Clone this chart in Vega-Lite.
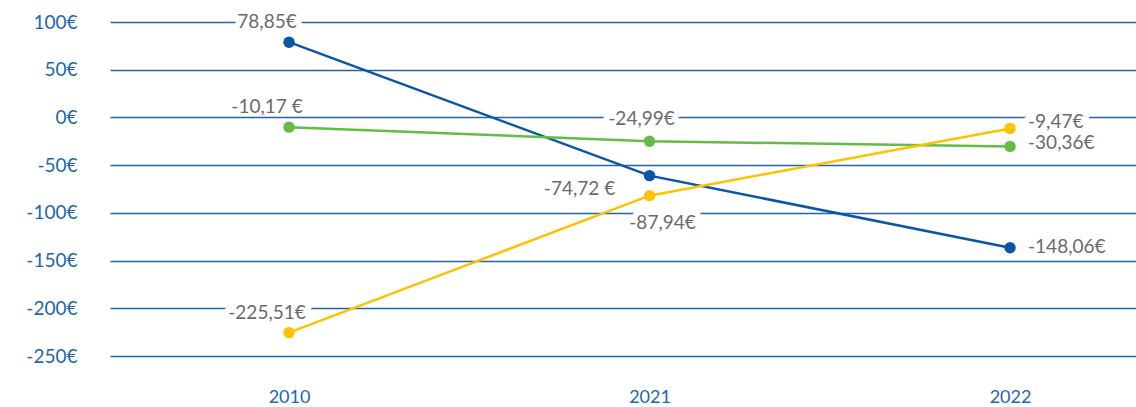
{
  "$schema": "https://vega.github.io/schema/vega-lite/v6.json",
  "autosize": "none",
  "width": 1026,
  "height": 334,
  "padding": {"left": 110, "top": 22, "right": 0, "bottom": 51},
  "background": "white",
  "config": {
    "view": {"stroke": null},
    "font": "Lato",
    "axis": {"domain": false, "ticks": false, "labelFont": "Lato", "labelColor": "#1f66b1", "labelFontSize": 19, "title": null}
  },
  "data": {
    "values": [
      {"year": "2010", "series": "blue", "value": 78.85, "label": "78,85€"},
      {"year": "2021", "series": "blue", "value": -61, "label": "-74,72 €"},
      {"year": "2022", "series": "blue", "value": -136.5, "label": "-148,06€"},
      {"year": "2010", "series": "green", "value": -10.17, "label": "-10,17 €"},
      {"year": "2021", "series": "green", "value": -24.99, "label": "-24,99€"},
      {"year": "2022", "series": "green", "value": -30.36, "label": "-30,36€"},
      {"year": "2010", "series": "yellow", "value": -225.51, "label": "-225,51€"},
      {"year": "2021", "series": "yellow", "value": -82, "label": "-87,94€"},
      {"year": "2022", "series": "yellow", "value": -11.5, "label": "-9,47€"}
    ]
  },
  "encoding": {
    "x": {"field": "year", "type": "ordinal", "scale": {"type": "point", "padding": 0.423, "align": 0.587},
      "axis": {"labelAngle": 0, "labelPadding": 32, "grid": false, "labelFontSize": 18}},
    "y": {"field": "value", "type": "quantitative", "scale": {"domain": [-250, 100], "nice": false, "zero": false},
      "axis": {"values": [-250, -200, -150, -100, -50, 0, 50, 100], "labelExpr": "datum.value + '€'", "labelPadding": 33,
        "grid": true, "gridColor": "#2563a8", "gridWidth": 1.4, "labelBaseline": "middle"}},
    "color": {"field": "series", "type": "nominal", "legend": null,
      "scale": {"domain": ["blue", "green", "yellow"], "range": ["#0a55a6", "#66bb47", "#fcc400"]}}
  },
  "layer": [
    {"transform": [{"filter": "datum.year == '2010' && datum.series != 'green'"}],
     "mark": {"type": "text", "dx": -22, "dy": -20, "align": "center", "baseline": "middle", "fontSize": 19, "fill": "white", "stroke": "white", "strokeWidth": 12, "strokeJoin": "round"},
     "encoding": {"text": {"field": "label"}, "color": {"value": "white"}}},
    {"transform": [{"filter": "datum.year == '2021' && datum.series == 'green'"}],
     "mark": {"type": "text", "dx": -8, "dy": -22, "align": "center", "baseline": "middle", "fontSize": 19, "fill": "white", "stroke": "white", "strokeWidth": 12, "strokeJoin": "round"},
     "encoding": {"text": {"field": "label"}, "color": {"value": "white"}}},
    {"transform": [{"filter": "datum.year == '2021' && datum.series == 'yellow'"}],
     "mark": {"type": "text", "dx": 13, "dy": 27, "align": "center", "baseline": "middle", "fontSize": 19, "fill": "white", "stroke": "white", "strokeWidth": 12, "strokeJoin": "round"},
     "encoding": {"text": {"field": "label"}, "color": {"value": "white"}}},
    {"transform": [{"filter": "datum.year == '2022' && datum.series == 'yellow'"}],
     "mark": {"type": "text", "dx": 18, "dy": -6, "align": "left", "baseline": "middle", "fontSize": 19, "fill": "white", "stroke": "white", "strokeWidth": 12, "strokeJoin": "round"},
     "encoding": {"text": {"field": "label"}, "color": {"value": "white"}}},
    {"mark": {"type": "line", "strokeWidth": 2.5}, "encoding": {"detail": {"field": "series"}}},
    {"mark": {"type": "point", "filled": true, "opacity": 1, "size": 130}},
    {"transform": [{"filter": "datum.year == '2010'"}],
     "mark": {"type": "text", "dx": -22, "dy": -20, "align": "center", "baseline": "middle", "fontSize": 19},
     "encoding": {"text": {"field": "label"}, "color": {"value": "#6b6b6b"}}},
    {"transform": [{"filter": "datum.year == '2021' && datum.series == 'green'"}],
     "mark": {"type": "text", "dx": -8, "dy": -22, "align": "center", "baseline": "middle", "fontSize": 19},
     "encoding": {"text": {"field": "label"}, "color": {"value": "#6b6b6b"}}},
    {"transform": [{"filter": "datum.year == '2021' && datum.series == 'blue'"}],
     "mark": {"type": "text", "dx": -70, "dy": 13, "align": "center", "baseline": "middle", "fontSize": 19},
     "encoding": {"text": {"field": "label"}, "color": {"value": "#6b6b6b"}}},
    {"transform": [{"filter": "datum.year == '2021' && datum.series == 'yellow'"}],
     "mark": {"type": "text", "dx": 13, "dy": 27, "align": "center", "baseline": "middle", "fontSize": 19},
     "encoding": {"text": {"field": "label"}, "color": {"value": "#6b6b6b"}}},
    {"transform": [{"filter": "datum.year == '2022' && datum.series == 'yellow'"}],
     "mark": {"type": "text", "dx": 18, "dy": -6, "align": "left", "baseline": "middle", "fontSize": 19},
     "encoding": {"text": {"field": "label"}, "color": {"value": "#6b6b6b"}}},
    {"transform": [{"filter": "datum.year == '2022' && datum.series == 'green'"}],
     "mark": {"type": "text", "dx": 18, "dy": -3, "align": "left", "baseline": "middle", "fontSize": 19},
     "encoding": {"text": {"field": "label"}, "color": {"value": "#6b6b6b"}}},
    {"transform": [{"filter": "datum.year == '2022' && datum.series == 'blue'"}],
     "mark": {"type": "text", "dx": 18, "dy": -1, "align": "left", "baseline": "middle", "fontSize": 19},
     "encoding": {"text": {"field": "label"}, "color": {"value": "#6b6b6b"}}}
  ]
}
